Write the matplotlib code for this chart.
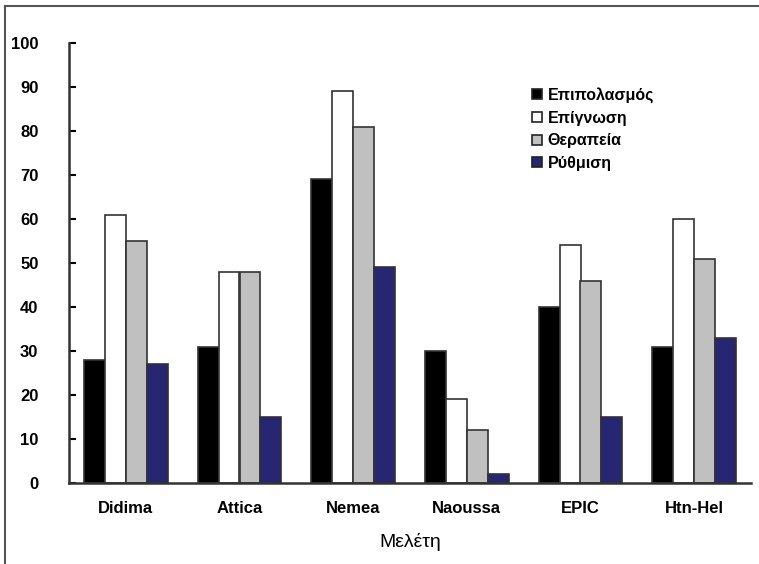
import numpy as np
import matplotlib
matplotlib.use("Agg")
import matplotlib.pyplot as plt
from matplotlib.lines import Line2D

plt.rcParams['font.family'] = ['Liberation Sans', 'DejaVu Sans']

studies = ['Didima', 'Attica', 'Nemea', 'Naoussa', 'EPIC', 'Htn-Hel']
series = ['Επιπολασμός', 'Επίγνωση', 'Θεραπεία', 'Ρύθμιση']
prevalence = [28, 31, 69, 30, 40, 31]
awareness = [61, 48, 89, 19, 54, 60]
treatment = [55, 48, 81, 12, 46, 51]
control = [27, 15, 49, 2, 15, 33]
colors = ['#000000', '#ffffff', '#c0c0c0', '#262673']

fig = plt.figure(figsize=(7.59, 5.64), dpi=100)
ax = fig.add_axes([69/759, 1 - 483/564, 682/759, 440/564])

x = np.arange(len(studies))
w = 0.184
data = [prevalence, awareness, treatment, control]
for i, vals in enumerate(data):
    ax.bar(x + (i - 1.5) * w, vals, w, color=colors[i], edgecolor='#333333',
           linewidth=1.2, label=series[i])

ax.set_xlim(-0.5, len(studies) - 0.5)
ax.set_ylim(0, 100)
ax.set_yticks(range(0, 101, 10))
ax.set_xticks(x)
ax.set_xticklabels(studies, fontweight='bold', fontsize=12)
ax.tick_params(axis='x', length=0, pad=13)
ax.tick_params(axis='y', direction='in', length=5, width=1.5, pad=22, labelsize=12)
for lab in ax.get_yticklabels():
    lab.set_fontweight('bold')
ax.spines['top'].set_visible(False)
ax.spines['right'].set_visible(False)
ax.spines['left'].set_linewidth(1.8)
ax.spines['bottom'].set_linewidth(1.8)
ax.spines['left'].set_color('#333333')
ax.spines['bottom'].set_color('#333333')
ax.set_xlabel('Μελέτη', fontsize=14, labelpad=12)

handles = [Line2D([], [], marker='s', linestyle='none', markersize=7,
                  markerfacecolor=c, markeredgecolor='#222222', markeredgewidth=1.2)
           for c in colors]
leg = ax.legend(handles, series, loc='upper left', bbox_to_anchor=(0.668, 0.917),
                frameon=False, borderpad=0, handlelength=0.6, handletextpad=0.35,
                labelspacing=0.47, prop={'weight': 'bold', 'size': 11.5})

# outer frame (left and top edges only)
fig.add_artist(Line2D([5/759, 5/759], [0, 1 - 6/564], transform=fig.transFigure,
                      color='#555555', linewidth=1.5))
fig.add_artist(Line2D([5/759, 1], [1 - 6/564, 1 - 6/564], transform=fig.transFigure,
                      color='#555555', linewidth=1.5))

fig.savefig('out.png', dpi=100)
